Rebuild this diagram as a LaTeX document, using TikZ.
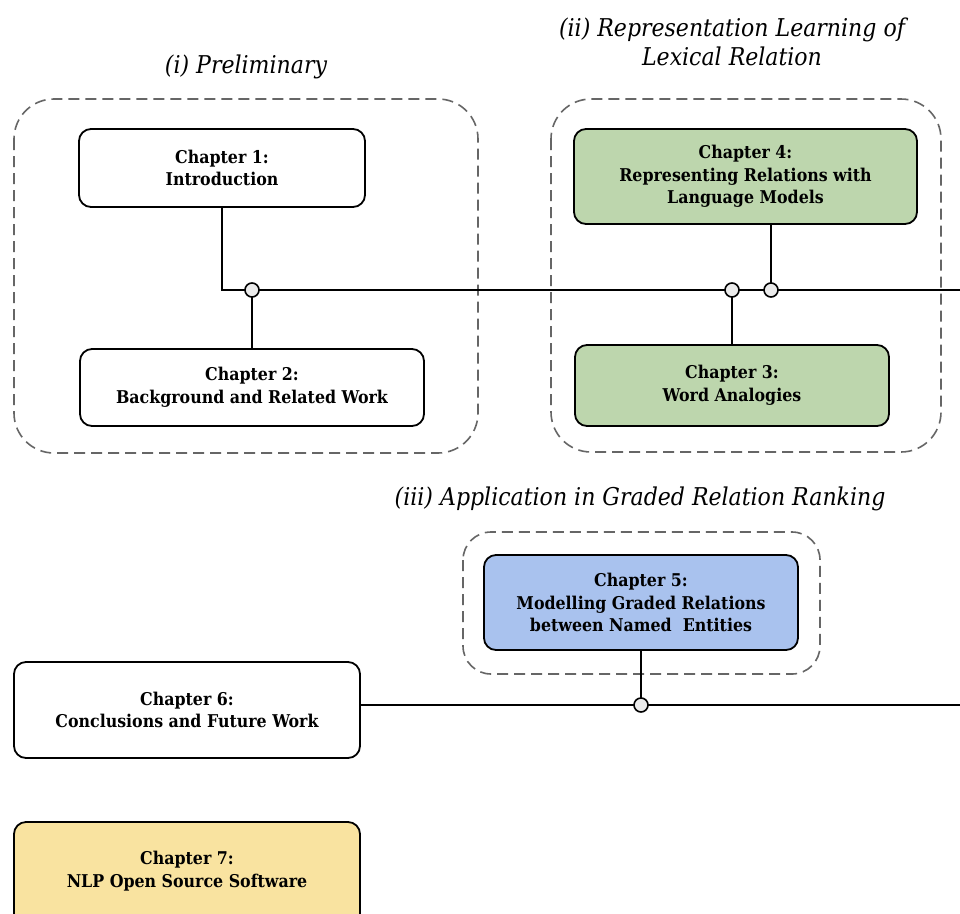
\documentclass[tikz,border=0pt]{standalone}
\usepackage{fontspec}
\setmainfont{DejaVu Serif}
\newfontfamily\boxface{DejaVu Serif Condensed}
\begin{document}
\begin{tikzpicture}[x=1pt,y=-1pt,
  boxfont/.style={font=\boxface\bfseries\fontsize{17.6}{22.5}\selectfont},
  chap/.style={draw=black, line width=1.8pt, rounded corners=12pt, fill=white,
    align=center, boxfont, inner sep=0pt},
  grp/.style={draw=black!60, line width=1.6pt, dash pattern=on 11pt off 6pt,
    rounded corners=40pt},
  link/.style={draw=black, line width=2pt},
  junction/.style={circle, draw=black, line width=1.6pt, fill=black!8,
    minimum size=14pt, inner sep=0pt},
  heading/.style={align=center, font=\boxface\itshape\fontsize{24.5}{28.5}\selectfont},
  green/.style={fill={rgb,255:red,189;green,214;blue,173}},
  blue/.style={fill={rgb,255:red,169;green,194;blue,238}},
  yellow/.style={fill={rgb,255:red,249;green,227;blue,160}}]

\clip (0,0) rectangle (960,913);
\fill[white] (0,0) rectangle (960,913);

% group frames
\draw[grp] (14,99) rectangle (478,453);
\draw[grp] (551,99) rectangle (941,452);
\draw[grp, rounded corners=28pt] (463,532) rectangle (820,674);

% group headings
\node[heading] (h1) at (246,67) {(i) Preliminary};
\node[heading] (h2) at (732,42) {(ii) Representation Learning of\\Lexical Relation};
\node[heading] (h3) at (640,499) {(iii) Application in Graded Relation Ranking};

% chapters
\node[chap, minimum width=286pt, minimum height=78pt] (ch1) at (222,168) {Chapter 1:\\Introduction};
\node[chap, minimum width=344pt, minimum height=77pt] (ch2) at (252,387.5) {Chapter 2:\\Background and Related Work};
\node[chap, green, minimum width=343pt, minimum height=95pt] (ch4) at (745.5,176.5) {Chapter 4:\\Representing Relations with\\Language Models};
\node[chap, green, minimum width=314pt, minimum height=81pt] (ch3) at (732,385.5) {Chapter 3:\\Word Analogies};
\node[chap, blue, minimum width=314pt, minimum height=95pt] (ch5) at (641,602.5) {Chapter 5:\\Modelling Graded Relations\\between Named~ Entities};
\node[chap, minimum width=346pt, minimum height=96pt] (ch6) at (187,710) {Chapter 6:\\Conclusions and Future Work};
\node[chap, yellow, minimum width=346pt, minimum height=110pt] (ch7) at (187,877) {};
\node[boxfont, align=center] (ch7t) at (187,871) {Chapter 7:\\NLP Open Source Software};

% bus lines
\coordinate (j1) at (252,290);
\coordinate (j3) at (732,290);
\coordinate (j4) at (771,290);
\coordinate (busA) at (960,290);
\coordinate (j5) at (641,705);
\coordinate (busB) at (960,705);

\draw[link] (ch1.south) |- (busA);
\draw[link] (ch2.north) -- (j1);
\draw[link] (ch3.north) -- (j3);
\draw[link] (ch4.south -| j4) -- (j4);
\draw[link] (ch6.east |- busB) -- (busB);
\draw[link] (ch5.south) -- (j5);

\node[junction] (c1) at (j1) {};
\node[junction] (c3) at (j3) {};
\node[junction] (c4) at (j4) {};
\node[junction] (c5) at (j5) {};
\end{tikzpicture}
\end{document}
